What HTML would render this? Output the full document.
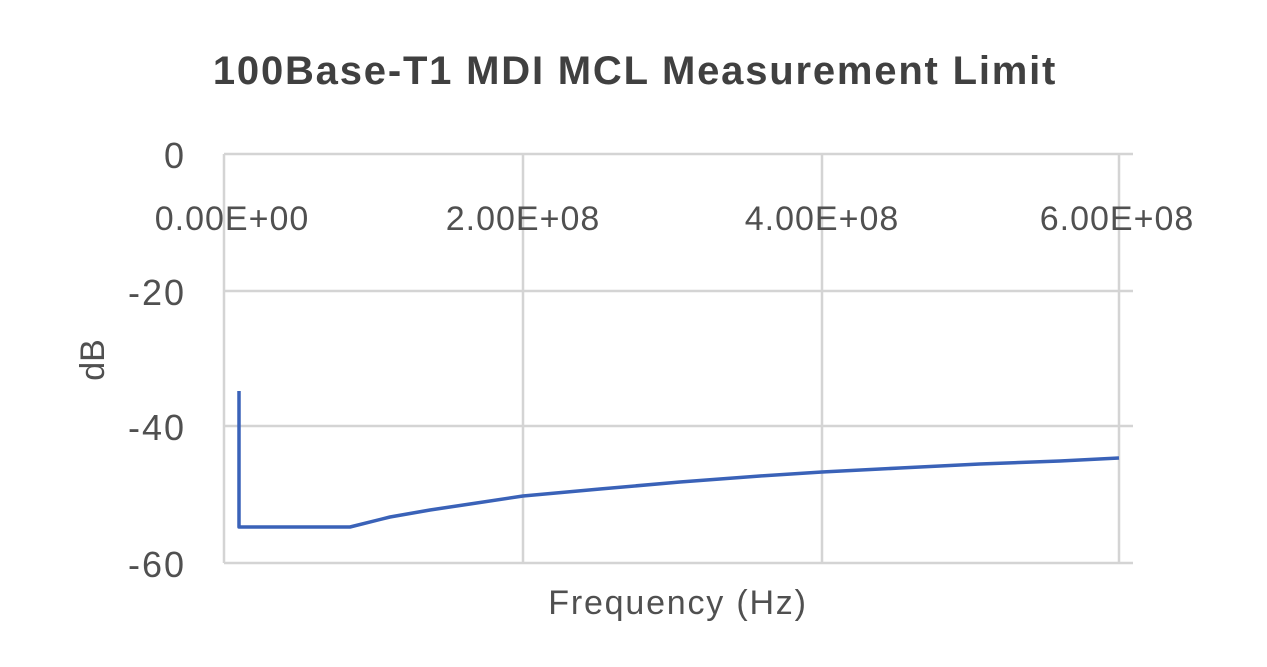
<!DOCTYPE html>
<html><head><style>
html,body{margin:0;padding:0;background:#fff;}
</style></head><body>
<svg width="1267" height="662" xmlns="http://www.w3.org/2000/svg" font-family="'Liberation Sans', sans-serif">
<rect width="1267" height="662" fill="#fff"/>
<text x="635" y="84" text-anchor="middle" font-size="40" font-weight="bold" fill="#404040" letter-spacing="1.8">100Base-T1 MDI MCL Measurement Limit</text>
<g stroke="#d4d4d4" stroke-width="2.5">
<line x1="224" y1="154" x2="1133" y2="154"/>
<line x1="224" y1="291" x2="1133" y2="291"/>
<line x1="224" y1="426" x2="1133" y2="426"/>
<line x1="224" y1="563" x2="1133" y2="563"/>
<line x1="224" y1="154" x2="224" y2="563"/>
<line x1="523" y1="154" x2="523" y2="563"/>
<line x1="822" y1="154" x2="822" y2="563"/>
<line x1="1119" y1="154" x2="1119" y2="563"/>
</g>
<g font-size="36" fill="#505050" text-anchor="end" letter-spacing="2">
<text x="186" y="168">0</text>
<text x="186" y="305">-20</text>
<text x="186" y="440">-40</text>
<text x="186" y="577">-60</text>
</g>
<g font-size="34" fill="#505050" text-anchor="middle" letter-spacing="1">
<text x="232" y="230">0.00E+00</text>
<text x="523" y="230">2.00E+08</text>
<text x="822" y="230">4.00E+08</text>
<text x="1117" y="230">6.00E+08</text>
</g>
<text x="678" y="614" text-anchor="middle" font-size="34" fill="#505050" letter-spacing="1.8">Frequency (Hz)</text>
<text transform="translate(104,360) rotate(-90)" text-anchor="middle" font-size="34" fill="#505050">dB</text>
<polyline fill="none" stroke="#3a62b8" stroke-width="3.5" stroke-linejoin="round"
points="239,391 239,527 350,527 390,517 430,510 470,504 523,496 600,489 680,482 760,476 822,472 900,468 980,464 1060,461 1119,458"/>
</svg>
</body></html>
